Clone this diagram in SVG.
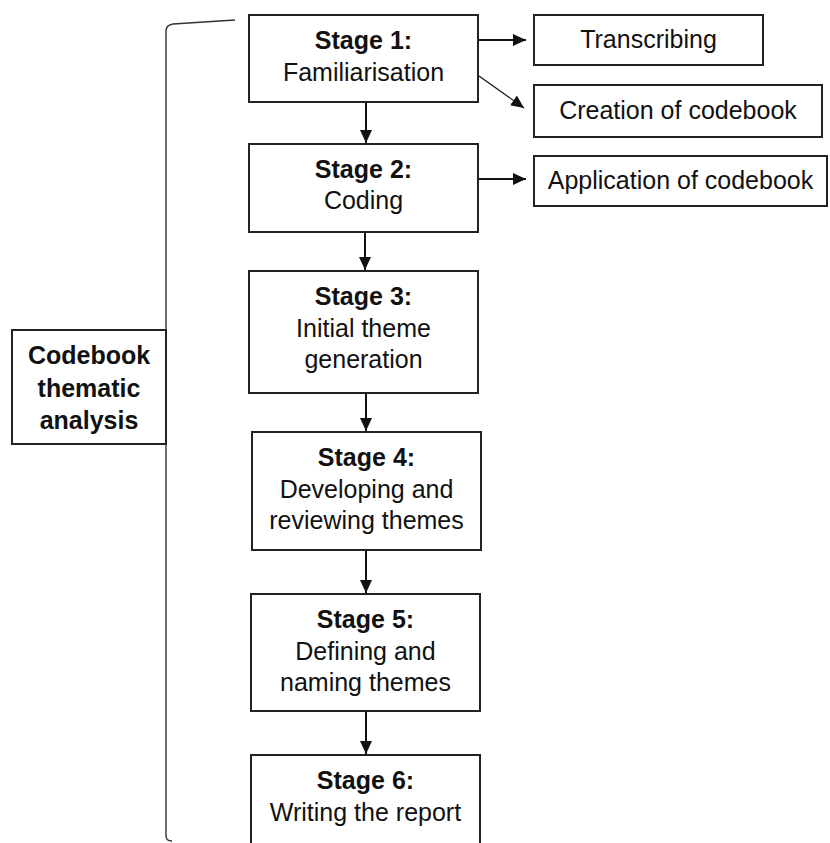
<svg xmlns="http://www.w3.org/2000/svg" width="830" height="843" viewBox="0 0 830 843">
<style>
  .box { fill: #fff; stroke: #222; stroke-width: 2; }
  .t { font-family: "Liberation Sans", Arial, sans-serif; font-size: 25px; fill: #111; text-anchor: middle; }
  .b { font-weight: bold; }
  .c { fill: none; stroke: #111; stroke-width: 2; }
  .thin { stroke-width: 1.2; }
  .br { fill: none; stroke: #333; stroke-width: 1.4; }
</style>
<defs>
  <marker id="ah" viewBox="0 0 13 12" refX="13" refY="6" markerWidth="13" markerHeight="12" markerUnits="userSpaceOnUse" orient="auto">
    <path d="M0,0 L13,6 L0,12 Z" fill="#111"/>
  </marker>
</defs>
<rect width="830" height="843" fill="#fff"/>

<g id="bracket">
  <path class="br" d="M235,20 L173,24 Q166,25 166,31 L166,836 Q166,841 172,841"/>
</g>

<g id="codebook">
  <rect class="box" x="12" y="330" width="154" height="114"/>
  <text class="t b" x="89" y="364">Codebook</text>
  <text class="t b" x="89" y="397">thematic</text>
  <text class="t b" x="89" y="429">analysis</text>
</g>

<g id="stage1">
  <rect class="box" x="249" y="15" width="229" height="87"/>
  <text class="t b" x="363.5" y="49">Stage 1:</text>
  <text class="t" x="363.5" y="81">Familiarisation</text>
</g>

<g id="stage2">
  <rect class="box" x="249" y="144" width="229" height="88"/>
  <text class="t b" x="363.5" y="178">Stage 2:</text>
  <text class="t" x="363.5" y="209">Coding</text>
</g>

<g id="stage3">
  <rect class="box" x="249" y="271" width="229" height="122"/>
  <text class="t b" x="363.5" y="305">Stage 3:</text>
  <text class="t" x="363.5" y="337">Initial theme</text>
  <text class="t" x="363.5" y="368">generation</text>
</g>

<g id="stage4">
  <rect class="box" x="252" y="432" width="229" height="118"/>
  <text class="t b" x="366.5" y="466">Stage 4:</text>
  <text class="t" x="366.5" y="498">Developing and</text>
  <text class="t" x="366.5" y="529">reviewing themes</text>
</g>

<g id="stage5">
  <rect class="box" x="251" y="594" width="229" height="117"/>
  <text class="t b" x="365.5" y="628">Stage 5:</text>
  <text class="t" x="365.5" y="660">Defining and</text>
  <text class="t" x="365.5" y="691">naming themes</text>
</g>

<g id="stage6">
  <rect class="box" x="251" y="755" width="229" height="100"/>
  <text class="t b" x="365.5" y="789">Stage 6:</text>
  <text class="t" x="365.5" y="821">Writing the report</text>
</g>

<g id="transcribing">
  <rect class="box" x="534" y="15" width="229" height="50"/>
  <text class="t" x="648.5" y="48">Transcribing</text>
</g>

<g id="creation">
  <rect class="box" x="534" y="85" width="288" height="52"/>
  <text class="t" x="678" y="119">Creation of codebook</text>
</g>

<g id="application">
  <rect class="box" x="534" y="156" width="293" height="50"/>
  <text class="t" x="680.5" y="189">Application of codebook</text>
</g>

<g id="connectors">
  <path class="c" d="M479,40 L526,40" marker-end="url(#ah)"/>
  <path class="c thin" d="M479,76 L524,108" marker-end="url(#ah)"/>
  <path class="c" d="M479,179 L526,179" marker-end="url(#ah)"/>
  <path class="c" d="M366,103 L366,143" marker-end="url(#ah)"/>
  <path class="c" d="M365,233 L365,270" marker-end="url(#ah)"/>
  <path class="c" d="M366,394 L366,431" marker-end="url(#ah)"/>
  <path class="c" d="M366,551 L366,593" marker-end="url(#ah)"/>
  <path class="c" d="M366,712 L366,754" marker-end="url(#ah)"/>
</g>
</svg>
